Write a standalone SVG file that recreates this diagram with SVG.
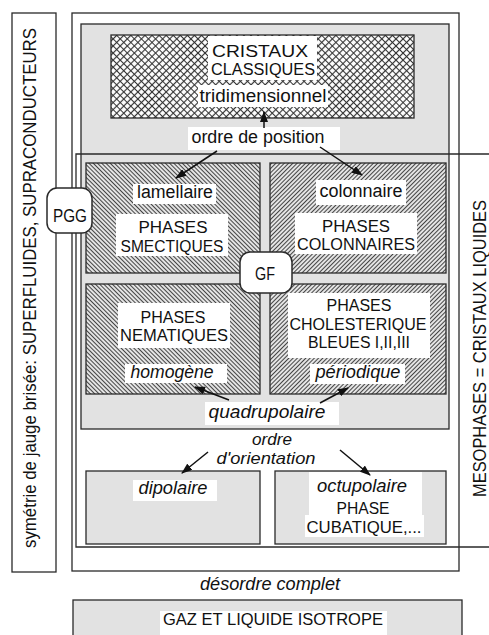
<svg xmlns="http://www.w3.org/2000/svg" width="489" height="635" viewBox="0 0 489 635">
<style>
.ln{fill:none;stroke:#2a2a2a;stroke-width:1.3}
.bd{stroke:#2a2a2a;stroke-width:1.3}
.xh{fill:url(#xh)}
.hl{fill:url(#hl)}
.hr{fill:url(#hr)}
.gray{fill:#e2e2e2;stroke:#2a2a2a;stroke-width:1.3}
.wb{fill:#fff}
.wbl{fill:#fff;stroke:#2a2a2a;stroke-width:1.3}
.t{font-family:"Liberation Sans",Arial,Helvetica,sans-serif;fill:#111;text-anchor:middle}
.c{font-size:16px}
.l{font-size:18px}
.i{font-size:18px;font-style:italic}
.i2{font-size:17px;font-style:italic}
.node{fill:#fff;stroke:#2a2a2a;stroke-width:1.5}
.arr{stroke:#111;stroke-width:1.5;fill:none;marker-end:url(#ah)}
</style>
<defs>
<pattern id="xh" patternUnits="userSpaceOnUse" width="5" height="5" patternTransform="rotate(45)">
<rect width="5" height="5" fill="#fff"/>
<path d="M0,2.5H5M2.5,0V5" stroke="#333" stroke-width="1.2"/>
</pattern>
<pattern id="hl" patternUnits="userSpaceOnUse" width="3" height="3" patternTransform="rotate(-45)">
<rect width="3" height="3" fill="#e4e4e4"/>
<path d="M1.5,0V3" stroke="#333" stroke-width="0.9"/>
</pattern>
<pattern id="hr" patternUnits="userSpaceOnUse" width="3" height="3" patternTransform="rotate(45)">
<rect width="3" height="3" fill="#e4e4e4"/>
<path d="M1.5,0V3" stroke="#333" stroke-width="0.9"/>
</pattern>
<marker id="ah" markerWidth="11" markerHeight="8" refX="10" refY="4" orient="auto" markerUnits="userSpaceOnUse">
<path d="M0,0 L11,4 L0,8 Z" fill="#111"/>
</marker>
</defs>
<rect width="489" height="635" fill="#fff"/>

<g id="symmetry-bar">
<rect x="12" y="13" width="44" height="559" class="wbl"/>
<text class="t" style="font-size:17.5px" transform="translate(35.5,288) rotate(-90)" textLength="520" lengthAdjust="spacingAndGlyphs">symétrie de jauge brisée: SUPERFLUIDES, SUPRACONDUCTEURS</text>
</g>

<g id="outer-box">
<rect x="72" y="13" width="387" height="558" class="wbl"/>
</g>

<g id="ordered-box">
<rect x="81" y="24" width="368" height="405" class="gray"/>
</g>

<g id="mesophases">
<path d="M489,154 H76 V547 H489" class="ln"/>
<text class="t" style="font-size:17.5px" transform="translate(485.5,348.5) rotate(-90)" textLength="297" lengthAdjust="spacingAndGlyphs">MESOPHASES = CRISTAUX LIQUIDES</text>
</g>

<g id="cristaux">
<rect x="111" y="35" width="303" height="83" class="xh bd"/>
<rect x="208" y="36" width="109" height="44" class="wb"/>
<rect x="198" y="85" width="130" height="22" class="wb"/>
<text class="t c" x="260" y="57" textLength="96" lengthAdjust="spacingAndGlyphs">CRISTAUX</text>
<text class="t c" x="263" y="75" textLength="104" lengthAdjust="spacingAndGlyphs">CLASSIQUES</text>
<text class="t l" x="263" y="102" textLength="127" lengthAdjust="spacingAndGlyphs">tridimensionnel</text>
</g>

<g id="ordre-position">
<rect x="188" y="127" width="152" height="23" class="wb"/>
<text class="t l" x="258" y="143" textLength="133" lengthAdjust="spacingAndGlyphs">ordre de position</text>
</g>

<g id="smectiques">
<rect x="86" y="163" width="174" height="110" class="hl bd"/>
<rect x="133" y="184" width="83" height="20" class="wb"/>
<rect x="116" y="214" width="112" height="42" class="wb"/>
<text class="t l" x="175" y="198" textLength="76" lengthAdjust="spacingAndGlyphs">lamellaire</text>
<text class="t c" x="173" y="233" textLength="69" lengthAdjust="spacingAndGlyphs">PHASES</text>
<text class="t c" x="172" y="252" textLength="103" lengthAdjust="spacingAndGlyphs">SMECTIQUES</text>
</g>

<g id="colonnaires">
<rect x="270" y="163" width="176" height="110" class="hr bd"/>
<rect x="316" y="180" width="90" height="25" class="wb"/>
<rect x="295" y="213" width="122" height="41" class="wb"/>
<text class="t l" x="361" y="197" textLength="83" lengthAdjust="spacingAndGlyphs">colonnaire</text>
<text class="t c" x="356" y="232" textLength="68" lengthAdjust="spacingAndGlyphs">PHASES</text>
<text class="t c" x="356" y="250" textLength="118" lengthAdjust="spacingAndGlyphs">COLONNAIRES</text>
</g>

<g id="nematiques">
<rect x="86" y="284" width="174" height="110" class="hl bd"/>
<rect x="118" y="303" width="112" height="45" class="wb"/>
<rect x="125" y="364" width="102" height="19" class="wb"/>
<text class="t c" x="173" y="323" textLength="65" lengthAdjust="spacingAndGlyphs">PHASES</text>
<text class="t c" x="174" y="341" textLength="108" lengthAdjust="spacingAndGlyphs">NEMATIQUES</text>
<text class="t i" x="172" y="378" textLength="83" lengthAdjust="spacingAndGlyphs">homogène</text>
</g>

<g id="cholesteriques">
<rect x="270" y="284" width="176" height="110" class="hr bd"/>
<rect x="288" y="293" width="142" height="65" class="wb"/>
<rect x="310" y="364" width="95" height="20" class="wb"/>
<text class="t c" x="359" y="311" textLength="65" lengthAdjust="spacingAndGlyphs">PHASES</text>
<text class="t c" x="358" y="330" textLength="137" lengthAdjust="spacingAndGlyphs">CHOLESTERIQUE</text>
<text class="t c" x="359" y="348" textLength="102" lengthAdjust="spacingAndGlyphs">BLEUES I,II,III</text>
<text class="t i" x="358" y="378" textLength="85" lengthAdjust="spacingAndGlyphs">périodique</text>
</g>

<g id="quadrupolaire">
<rect x="205" y="402" width="134" height="23" class="wb"/>
<text class="t i" x="267" y="418" textLength="117" lengthAdjust="spacingAndGlyphs">quadrupolaire</text>
</g>

<g id="ordre-orientation">
<text class="t i2" x="272" y="445" textLength="40" lengthAdjust="spacingAndGlyphs">ordre</text>
<text class="t i2" x="266" y="464" textLength="99" lengthAdjust="spacingAndGlyphs">d'orientation</text>
</g>

<g id="dipolaire">
<rect x="86" y="471" width="174" height="73" class="gray"/>
<rect x="133" y="480" width="84" height="21" class="wb"/>
<text class="t i" x="173" y="494" textLength="69" lengthAdjust="spacingAndGlyphs">dipolaire</text>
</g>

<g id="octupolaire">
<rect x="275" y="471" width="171" height="73" class="gray"/>
<path d="M309,472 H422 V515 H424 V537 H305 V515 H309 Z" class="wb"/>
<text class="t i" x="362" y="492" textLength="90" lengthAdjust="spacingAndGlyphs">octupolaire</text>
<text class="t c" x="363" y="514" textLength="53" lengthAdjust="spacingAndGlyphs">PHASE</text>
<text class="t c" x="364" y="533" textLength="115" lengthAdjust="spacingAndGlyphs">CUBATIQUE,...</text>
</g>

<g id="desordre">
<text class="t i" x="270" y="590" textLength="140" lengthAdjust="spacingAndGlyphs">désordre complet</text>
</g>

<g id="gaz-liquide">
<rect x="73" y="600" width="389" height="45" class="gray"/>
<rect x="160" y="611" width="227" height="24" class="wb"/>
<text class="t c" x="273" y="625" textLength="220" lengthAdjust="spacingAndGlyphs">GAZ ET LIQUIDE ISOTROPE</text>
</g>

<g id="PGG">
<rect x="47" y="188" width="45" height="45" rx="10" class="node"/>
<text class="t" style="font-size:18px" x="70" y="222" textLength="34" lengthAdjust="spacingAndGlyphs">PGG</text>
</g>

<g id="GF">
<rect x="240" y="252" width="52" height="41" rx="10" class="node"/>
<text class="t" style="font-size:18px" x="265" y="280" textLength="20" lengthAdjust="spacingAndGlyphs">GF</text>
</g>

<g id="connectors">
<line x1="264" y1="128" x2="264" y2="112" class="arr"/>
<line x1="217" y1="151" x2="176" y2="178" class="arr"/>
<line x1="320" y1="147" x2="362" y2="175" class="arr"/>
<line x1="229" y1="400" x2="195" y2="387" class="arr"/>
<line x1="320" y1="403" x2="348" y2="388" class="arr"/>
<line x1="208" y1="452" x2="182" y2="473" class="arr"/>
<line x1="340" y1="450" x2="370" y2="475" class="arr"/>
</g>
</svg>
